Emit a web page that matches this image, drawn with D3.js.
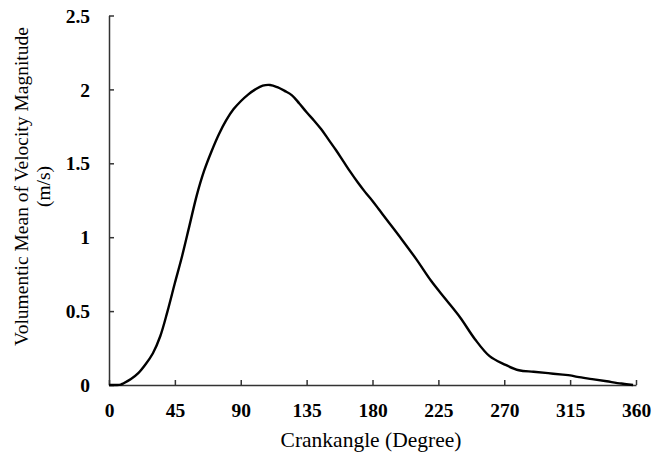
<!DOCTYPE html>
<html><head><meta charset="utf-8">
<script src="https://cdn.jsdelivr.net/npm/d3@7"></script>
<style>body{margin:0;background:#fff}svg{display:block}</style>
</head><body>
<script>
const crankAngle = [0,5,8,10,15,20,25,30,35,40,45,50,55,60,65,70,75,80,85,90,95,100,105,110,115,120,125,130,135,140,145,150,155,160,165,170,175,180,185,190,200,210,220,230,240,250,260,270,280,290,300,310,315,320,330,340,350,358];
const velocity   = [0,0,0.003,0.012,0.04,0.08,0.14,0.215,0.33,0.5,0.69,0.875,1.08,1.285,1.45,1.58,1.695,1.79,1.865,1.92,1.965,2.0,2.025,2.03,2.015,1.99,1.96,1.905,1.845,1.79,1.73,1.66,1.59,1.515,1.44,1.37,1.305,1.245,1.18,1.115,0.985,0.85,0.705,0.58,0.455,0.31,0.195,0.14,0.10,0.09,0.08,0.07,0.065,0.055,0.04,0.025,0.01,0];
const xTicks = [0,45,90,135,180,225,270,315,360];
const yTicks = [0,0.5,1,1.5,2,2.5];

const W = 668, H = 455;
const svg = d3.select("body").append("svg").attr("width", W).attr("height", H);
const x = d3.scaleLinear().domain([0,360]).range([109,636]);
const y = d3.scaleLinear().domain([0,2.5]).range([385,15.5]);
const font = "'Liberation Serif','Times New Roman',serif";

const xAxis = svg.append("g").attr("transform",`translate(0,${y(0)})`)
  .call(d3.axisBottom(x).tickValues(xTicks).tickSizeInner(-5).tickSizeOuter(0).tickFormat(d3.format("d")));
const yAxis = svg.append("g").attr("transform",`translate(${x(0)},0)`)
  .call(d3.axisLeft(y).tickValues(yTicks).tickSizeInner(-5).tickSizeOuter(0).tickFormat(d => d));
[xAxis,yAxis].forEach(g => {
  g.selectAll("path,line").attr("stroke","#333").attr("stroke-width",1.5);
  g.selectAll("text").attr("font-family",font).attr("font-weight","bold").attr("font-size",19.5).attr("fill","#000");
});
xAxis.selectAll("text").attr("y",32).attr("dy",0);
yAxis.selectAll("text").attr("x",-19).attr("dy","0.34em");

const data = crankAngle.map((a,i)=>[a,velocity[i]]);
svg.append("path").datum(data)
  .attr("fill","none").attr("stroke","#000").attr("stroke-width",2.4)
  .attr("d", d3.line().x(d=>x(d[0])).y(d=>y(d[1])).curve(d3.curveCatmullRom));

svg.append("text").attr("x",371).attr("y",447).attr("text-anchor","middle")
  .attr("font-family",font).attr("font-size",21.5).text("Crankangle (Degree)");
const yt = svg.append("text").attr("transform","translate(0,186.5) rotate(-90)")
  .attr("text-anchor","middle").attr("font-family",font).attr("font-size",19.5);
yt.append("tspan").attr("x",0).attr("y",28).text("Volumentic Mean of Velocity Magnitude");
yt.append("tspan").attr("x",0).attr("y",50).text("(m/s)");
</script>
</body></html>
